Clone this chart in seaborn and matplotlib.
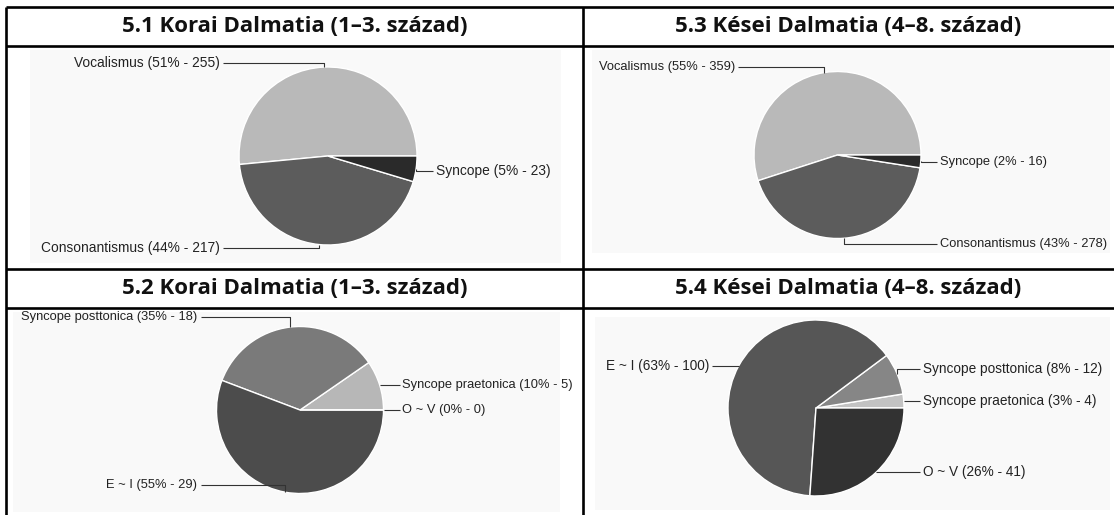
import numpy as np
import matplotlib
matplotlib.use("Agg")
import matplotlib.pyplot as plt
import matplotlib.patches as mpatches
import seaborn as sns

# ---------------- data ----------------
titles = ["5.1 Korai Dalmatia (1–3. század)", "5.3 Kései Dalmatia (4–8. század)",
          "5.2 Korai Dalmatia (1–3. század)", "5.4 Kései Dalmatia (4–8. század)"]

cats_51 = ["Vocalismus", "Consonantismus", "Syncope"]
vals_51 = [255, 217, 23]
pcts_51 = [51, 44, 5]

cats_53 = ["Vocalismus", "Consonantismus", "Syncope"]
vals_53 = [359, 278, 16]
pcts_53 = [55, 43, 2]

cats_52 = ["Syncope praetonica", "Syncope posttonica", "E ~ I", "O ~ V"]
vals_52 = [5, 18, 29, 0]
pcts_52 = [10, 35, 55, 0]

cats_54 = ["Syncope praetonica", "Syncope posttonica", "E ~ I", "O ~ V"]
vals_54 = [4, 12, 100, 41]
pcts_54 = [3, 8, 63, 26]

# ---------------- style ----------------
sns.set_theme(style="white")
plt.rcParams["font.family"] = ["Liberation Sans", "DejaVu Sans"]

W, H = 1114, 515
fig = plt.figure(figsize=(W / 100, H / 100), dpi=100)
fig.patch.set_facecolor("white")
ax = fig.add_axes([0, 0, 1, 1])


def Y(y):
    return H - y


# layout (pixel positions, y measured from top)
layout = [
    dict(cats=cats_51, vals=vals_51, pcts=pcts_51, cx=328, cy=156, r=89,
         colors=["#b9b9b9", "#5c5c5c", "#2a2a2a"],
         sides=["L", "L", "R"], offs=[-4, 3, 2], bg=(30, 50, 561, 263)),
    dict(cats=cats_53, vals=vals_53, pcts=pcts_53, cx=837.5, cy=155, r=83.5,
         colors=["#b9b9b9", "#5c5c5c", "#2a2a2a"],
         sides=["L", "R", "R"], offs=[-6, 6, 1], bg=(592, 50, 1110, 253)),
    dict(cats=cats_52, vals=vals_52, pcts=pcts_52, cx=300, cy=410, r=83.5,
         colors=["#b7b7b7", "#7a7a7a", "#4c4c4c", "#2e2e2e"],
         sides=["R", "L", "L", "R"], offs=[0, -10, -7, 0], bg=(13, 312, 560, 512)),
    dict(cats=cats_54, vals=vals_54, pcts=pcts_54, cx=816, cy=408, r=88,
         colors=["#c2c2c2", "#868686", "#565656", "#323232"],
         sides=["R", "R", "L", "R"], offs=[0, -5, 0, 0], bg=(595, 317, 1110, 510)),
]

# chart backgrounds
for ch in layout:
    x0, y0, x1, y1 = ch["bg"]
    ax.add_patch(mpatches.Rectangle((x0, Y(y1)), x1 - x0, y1 - y0,
                                    facecolor="#f9f9f9", edgecolor="none", zorder=0))

# pies
for ch in layout:
    vals = np.array(ch["vals"], dtype=float)
    ax.pie(vals, colors=ch["colors"], startangle=0, counterclock=True,
           center=(ch["cx"], Y(ch["cy"])), radius=ch["r"], frame=True,
           wedgeprops=dict(edgecolor="white", linewidth=1.0))
    total = vals.sum()
    fs = 0.111 * ch["r"]
    start = 0.0
    for cat, v, p, side, off in zip(ch["cats"], vals, ch["pcts"], ch["sides"], ch["offs"]):
        span = 360.0 * v / total
        mid = np.deg2rad(start + span / 2)
        start += span
        mx = ch["cx"] + ch["r"] * np.cos(mid)
        my = ch["cy"] - ch["r"] * np.sin(mid)
        ly = my + off
        label = f"{cat} ({int(p)}% - {int(v)})"
        if side == "R":
            tx = ch["cx"] + ch["r"] + 19
            ax.plot([mx, mx, tx - 3], [Y(my), Y(ly), Y(ly)], color="#333333",
                    lw=0.8, solid_capstyle="butt", zorder=5)
            ax.text(tx, Y(ly), label, ha="left", va="center", fontsize=fs,
                    color="#222222", zorder=6)
        else:
            tx = ch["cx"] - ch["r"] - 19
            ax.plot([mx, mx, tx + 3], [Y(my), Y(ly), Y(ly)], color="#333333",
                    lw=0.8, solid_capstyle="butt", zorder=5)
            ax.text(tx, Y(ly), label, ha="right", va="center", fontsize=fs,
                    color="#222222", zorder=6)

# table grid
lw = 1.9
grid_h = [7, 46, 269, 308]
for gy in grid_h:
    ax.plot([6, W], [Y(gy), Y(gy)], color="black", lw=lw, solid_capstyle="butt", zorder=10)
for gx in [6, 583]:
    ax.plot([gx, gx], [Y(7), Y(H)], color="black", lw=lw, solid_capstyle="butt", zorder=10)

# headers
hdr_font = ["Open Sans", "DejaVu Sans"]
centers = [(294.5, 26.5), (848.5, 26.5), (294.5, 288.5), (848.5, 288.5)]
for t, (hx, hy) in zip(titles, centers):
    ax.text(hx, Y(hy), t, ha="center", va="center", fontsize=16,
            fontweight="bold", family=hdr_font, color="#111111", zorder=11)

ax.set_xlim(0, W)
ax.set_ylim(0, H)
ax.set_aspect("auto")
ax.axis("off")

fig.savefig("out.png", dpi=100, facecolor="white")
